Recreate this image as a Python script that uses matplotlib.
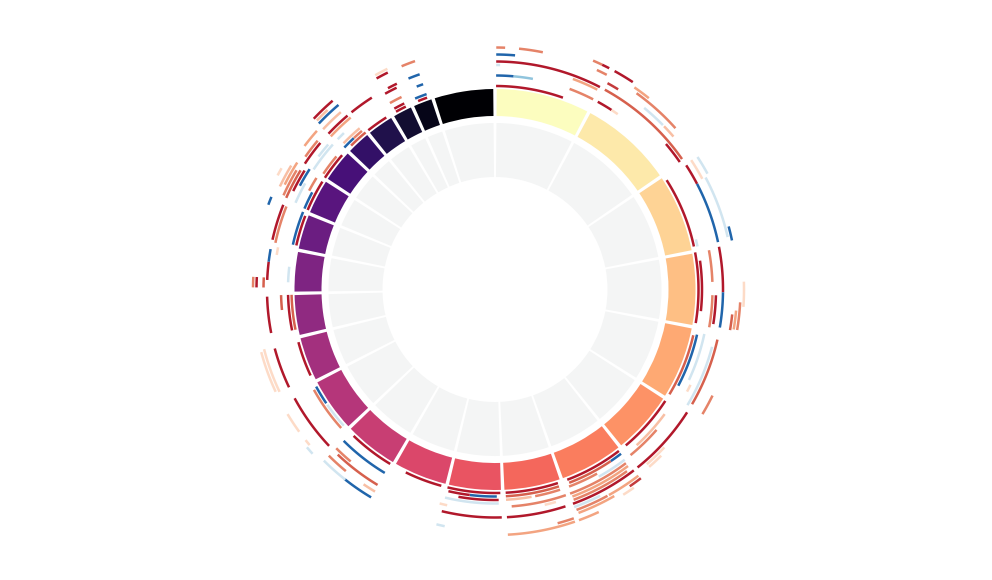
import matplotlib
matplotlib.use("Agg")
import matplotlib.pyplot as plt
import numpy as np
from matplotlib.colors import Normalize

# ---------------------------------------------------------------------------
# Ideogram: 23 chromosomes, angular extent (deg, gap included)
# ---------------------------------------------------------------------------
CHROMS = ["chr1", "chr2", "chr3", "chr4", "chr5", "chr6", "chr7", "chr8",
          "chr9", "chr10", "chr11", "chr12", "chr13", "chr14", "chr15", "chr16",
          "chr17", "chr18", "chr19", "chr20", "chr21", "chr22", "chrX"]
CHROM_SPAN = [27.9, 27.9, 23.4, 21.5, 21.8, 19.0, 19.2, 17.1,
              16.0, 16.3, 16.4, 16.4, 13.5, 12.5, 12.4, 10.9,
              10.8, 10.2, 7.7, 8.4, 6.4, 6.3, 18.0]

# Stack track: (start_deg, end_deg, stack row, value)
ARCS_NE = [
    (0.3, 19.5, 0, -0.8), (0.3, 5.0, 3, 0.8), (5.0, 10.2, 3, 0.4),
    (0.3, 1.3, 6, 0.2), (0.3, 27.4, 7, -0.8), (0.3, 4.9, 9, 0.8),
    (0.3, 2.4, 11, -0.5), (5.7, 11.4, 11, -0.5), (20.4, 27.3, 3, -0.5),
    (20.3, 27.1, 6, -0.4), (23.2, 25.5, 13, -0.5), (25.5, 27.3, 13, -0.8),
    (24.9, 27.5, 11, -0.5),
    (28.7, 33.6, 13, -0.8), (28.6, 31.6, 9, -0.7), (28.7, 33.0, 3, -0.8),
    (33.0, 35.0, 3, -0.2), (28.8, 55.1, 7, -0.6), (34.6, 38.8, 12, -0.4),
    (35.8, 48.2, 11, -0.5), (39.4, 45.6, 9, 0.2), (46.0, 49.4, 9, -0.3),
    (49.6, 55.4, 6, -0.8),
    (57.5, 77.8, 0, -0.8), (76.0, 78.0, 1, 0.2), (57.0, 62.4, 7, -0.8),
    (62.4, 78.0, 7, 0.8), (56.6, 61.9, 9, -0.2), (62.0, 77.3, 10, 0.2),
    (56.8, 61.4, 11, 0.2), (74.9, 78.3, 11, 0.8),
    (79.5, 99.5, 0, -0.8), (82.0, 96.0, 1, -0.8), (79.6, 88.0, 4, -0.5),
    (79.2, 90.7, 7, -0.8), (88.2, 94.0, 13, -0.2),
]
ARCS_SE = [
    (91.5, 100.0, 4, -0.5), (91.5, 99.0, 5, -0.8), (90.7, 99.6, 7, 0.8),
    (96.0, 99.8, 10, -0.6), (95.0, 99.5, 11, -0.4), (93.0, 99.5, 12, -0.5),
    (103.0, 121.0, 0, -0.6), (102.6, 117.7, 1, 0.8), (102.0, 115.0, 3, 0.2),
    (116.0, 118.0, 4, -0.2), (104.8, 121.0, 6, 0.2), (102.7, 120.2, 7, -0.6),
    (116.0, 121.0, 11, -0.5),
    (123.2, 140.0, 0, -0.8), (126.3, 137.7, 2, -0.3), (131.0, 140.7, 3, -0.5),
    (122.6, 141.3, 7, -0.8), (133.0, 139.0, 8, -0.2), (135.0, 139.0, 9, -0.2),
    (142.5, 159.2, 0, -0.8), (142.5, 146.0, 1, 0.8), (146.0, 159.0, 1, -0.6),
    (151.0, 159.4, 2, -0.5), (142.7, 151.0, 3, 0.2), (143.0, 159.8, 4, -0.5),
    (143.0, 159.5, 5, -0.4), (144.0, 159.5, 6, -0.5), (142.5, 160.0, 7, -0.8),
    (153.0, 160.0, 8, 0.2), (142.4, 151.0, 9, -0.4), (151.4, 159.7, 9, -0.5),
    (142.3, 145.6, 10, -0.7), (150.0, 159.5, 10, -0.4), (145.0, 148.0, 11, -0.2),
    (155.0, 160.0, 12, -0.4),
    (162.0, 177.0, 0, -0.8), (162.0, 177.0, 1, -0.6), (162.0, 169.0, 2, -0.5),
    (170.0, 177.0, 2, -0.3), (161.0, 175.6, 4, -0.5), (164.0, 167.0, 5, -0.2),
    (162.0, 177.0, 7, -0.8), (161.0, 165.0, 11, -0.5), (161.0, 177.0, 12, -0.4),
]
ARCS_SW = [
    (178.5, 193.5, 0, -0.8), (179.5, 187.0, 1, 0.8), (187.0, 193.0, 1, -0.8),
    (179.0, 190.0, 2, -0.8), (179.0, 193.5, 3, 0.2), (192.5, 194.5, 5, -0.2),
    (178.3, 193.5, 7, -0.8), (192.0, 194.0, 11, 0.2),
    (195.3, 206.0, 0, -0.8),
    (211.0, 224.0, 0, -0.8), (211.0, 225.0, 3, 0.8), (220.0, 225.0, 6, -0.5),
    (211.0, 223.6, 7, -0.6), (210.7, 214.0, 9, -0.3), (219.4, 225.0, 9, -0.5),
    (210.8, 218.5, 11, 0.8), (218.2, 225.0, 11, 0.2),
    (228.0, 235.5, 0, 0.2), (236.0, 241.5, 0, 0.8), (228.0, 241.0, 1, -0.5),
    (226.7, 241.5, 7, -0.8), (230.0, 231.5, 11, -0.2), (234.0, 239.0, 11, -0.2),
    (228.0, 230.0, 12, 0.2),
    (245.0, 255.0, 0, -0.8), (244.6, 255.0, 7, -0.8), (244.6, 255.5, 10, -0.2),
    (245.0, 255.0, 11, -0.2),
    (258.6, 268.5, 0, -0.6), (258.6, 268.5, 1, -0.8), (264.5, 268.5, 3, -0.6),
    (259.0, 268.2, 7, -0.8),
]
ARCS_NW = [
    (272.0, 276.3, 1, 0.2), (279.0, 281.0, 5, -0.2), (272.4, 277.0, 7, -0.8),
    (277.0, 280.2, 7, 0.8), (270.5, 273.0, 8, -0.6), (270.5, 273.0, 10, -0.8),
    (270.5, 273.0, 11, -0.5),
    (282.5, 291.2, 0, -0.8), (282.5, 292.0, 1, 0.8), (282.0, 291.7, 6, -0.5),
    (282.6, 291.8, 7, -0.8), (290.5, 292.5, 11, 0.8),
    (293.0, 302.0, 0, -0.8), (293.0, 298.0, 1, 0.8), (298.0, 302.0, 2, -0.5),
    (293.5, 299.2, 4, 0.2), (298.0, 303.0, 5, 0.8), (296.0, 302.0, 6, -0.8),
    (293.7, 301.5, 7, -0.6), (294.0, 301.0, 8, -0.5), (296.5, 302.7, 9, -0.4),
    (295.6, 301.3, 10, -0.3), (297.7, 299.6, 12, -0.2),
    (303.3, 311.3, 0, -0.8), (304.0, 310.0, 1, -0.5), (303.5, 311.8, 4, 0.2),
    (307.0, 311.0, 5, 0.2), (303.5, 310.0, 7, -0.8), (305.0, 310.0, 8, -0.5),
    (307.0, 311.7, 10, -0.4),
    (315.0, 320.5, 0, -0.6), (313.3, 317.0, 1, 0.8), (317.0, 320.0, 1, -0.5),
    (314.0, 320.0, 2, -0.3), (313.7, 316.0, 4, 0.2), (313.0, 320.0, 6, -0.4),
    (313.1, 319.7, 7, -0.8), (313.0, 319.0, 9, -0.3), (313.3, 319.7, 11, 0.8),
    (313.5, 317.0, 12, -0.3), (313.3, 319.3, 13, -0.8),
    (321.5, 327.7, 0, -0.8), (321.0, 327.3, 7, -0.8),
    (330.9, 334.0, 0, -0.8), (330.9, 334.0, 1, -0.8), (330.6, 334.1, 3, -0.5),
    (330.7, 334.0, 6, -0.8), (332.0, 334.5, 7, -0.8), (330.7, 333.7, 11, -0.8),
    (330.8, 334.0, 12, -0.2),
    (337.8, 340.5, 0, -0.8), (337.3, 340.7, 1, 0.8), (338.9, 340.7, 4, 0.8),
    (337.7, 340.7, 7, 0.8), (337.3, 340.7, 11, -0.5),
]

# geometry (pixels == radial data units)
GAP_DEG = 1.0
TRACK_IN = (112.5, 166.5)
IDEO = (173.5, 200.5)
ROW0_R = 203.5
ROW_STEP = 3.5
R_MAX = 280


def main():
    fig = plt.figure(figsize=(9.92, 5.8), dpi=100)
    cx, cy = 495, 290.5
    ax = fig.add_axes([(cx - R_MAX) / 992, (cy - R_MAX) / 580,
                       2 * R_MAX / 992, 2 * R_MAX / 580], projection="polar")
    ax.set_theta_zero_location("N")
    ax.set_theta_direction(-1)
    ax.set_ylim(0, R_MAX)
    ax.axis("off")

    span = np.array(CHROM_SPAN)
    starts = np.concatenate([[0], np.cumsum(span)[:-1]])
    centers = np.deg2rad(starts + span / 2)
    widths = np.deg2rad(span - GAP_DEG)
    ideo_colors = plt.get_cmap("magma_r")(np.linspace(0, 1, len(CHROMS)))

    # inner empty track
    ax.bar(centers, TRACK_IN[1] - TRACK_IN[0], width=widths, bottom=TRACK_IN[0],
           color="#f4f5f5", edgecolor="none", align="center")
    # ideogram
    ax.bar(centers, IDEO[1] - IDEO[0], width=widths, bottom=IDEO[0],
           color=ideo_colors, edgecolor="none", align="center")

    # stacked intervals
    cmap = plt.get_cmap("RdBu")
    norm = Normalize(-1, 1)
    for start, end, row, val in ARCS_NE + ARCS_SE + ARCS_SW + ARCS_NW:
        th = np.deg2rad(np.linspace(start, end, 60))
        r = ROW0_R + ROW_STEP * row
        ax.plot(th, np.full_like(th, r), color=cmap(norm(val)), lw=1.8,
                solid_capstyle="butt")

    fig.savefig("out.png", dpi=100)


if __name__ == "__main__":
    main()
